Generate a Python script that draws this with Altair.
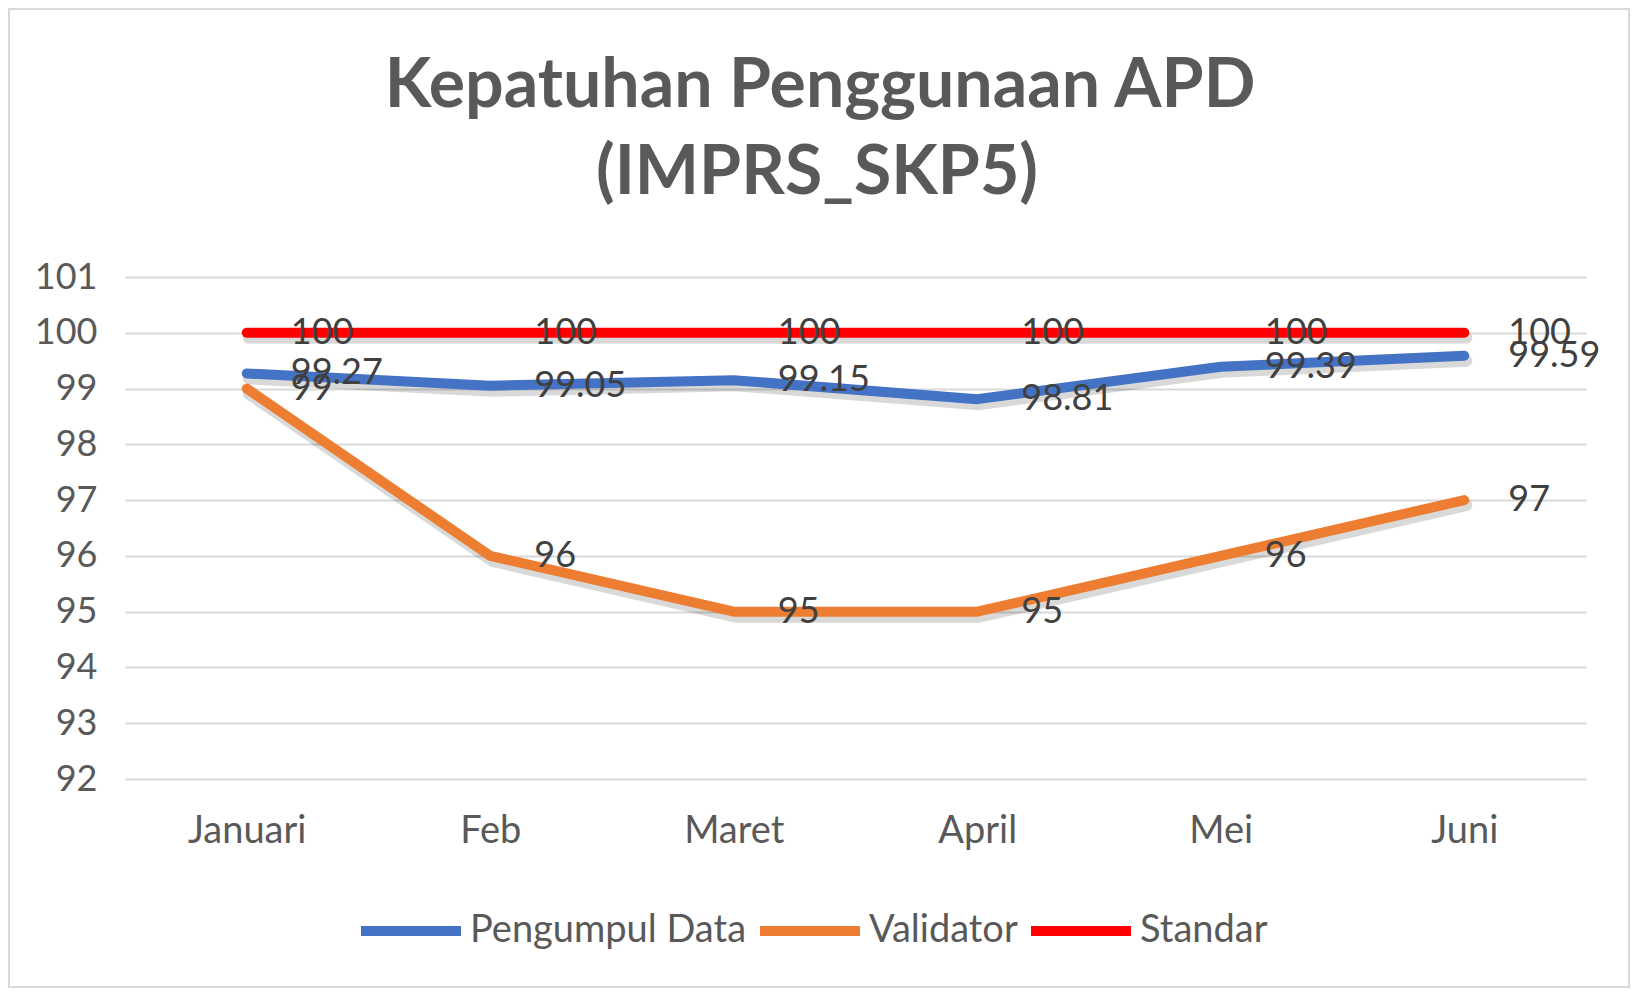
import altair as alt
import pandas as pd

title_lines = ["Kepatuhan Penggunaan APD", "(IMPRS_SKP5)"]
months = ["Januari", "Feb", "Maret", "April", "Mei", "Juni"]
pengumpul = [99.27, 99.05, 99.15, 98.81, 99.39, 99.59]
validator = [99, 96, 95, 95, 96, 97]
standar = [100, 100, 100, 100, 100, 100]
series = ["Pengumpul Data", "Validator", "Standar"]
colors = ["#4472C4", "#ED7D31", "#FF0000"]
y_ticks = [92, 93, 94, 95, 96, 97, 98, 99, 100, 101]

rows = []
for s, vals in zip(series, [pengumpul, validator, standar]):
    for i, (m, v) in enumerate(zip(months, vals)):
        rows.append({"bulan": m, "idx": i, "seri": s, "nilai": v, "label": f"{v:g}"})
df = pd.DataFrame(rows)

FONT = "Lato"
W, H = 1461, 502
PL, PT, PR = 117, 269, 44
PB = 980 - PT - H

x_enc = alt.X("bulan:N", sort=months, title=None,
              scale=alt.Scale(type="point", padding=0.5),
              axis=alt.Axis(labelAngle=0, domain=False, ticks=False, grid=False, labelPadding=33,
                            labelFontSize=38, labelColor="#595959", labelFont=FONT))
y_enc = alt.Y("nilai:Q", title=None, scale=alt.Scale(domain=[92, 101], nice=False, zero=False),
              axis=alt.Axis(values=y_ticks, domain=False, ticks=False, grid=True, labelPadding=28,
                            labelFontSize=36, labelColor="#595959", labelFont=FONT,
                            gridColor="#d9d9d9", gridWidth=2))

color_enc = alt.Color("seri:N", sort=series,
                      scale=alt.Scale(domain=series, range=colors),
                      legend=alt.Legend(title=None, orient="none", direction="horizontal",
                                        legendX=231, legendY=599,
                                        symbolType="stroke", symbolSize=10000,
                                        symbolStrokeWidth=10, labelFontSize=38,
                                        labelColor="#595959", labelFont=FONT,
                                        labelOffset=4, columnPadding=-7, labelLimit=500))

base = alt.Chart(df)

border = alt.Chart(pd.DataFrame({"a": [0]})).mark_rect(
    fill="transparent", stroke="#d9d9d9", strokeWidth=2
).encode(x=alt.value(-PL + 1), x2=alt.value(W + PR - 1),
         y=alt.value(-PT + 1), y2=alt.value(H + PB - 1))

title_df = pd.DataFrame({"t": title_lines, "k": [0, 1]})
title1 = alt.Chart(title_df).transform_filter(alt.datum.k == 0).mark_text(
    fontSize=68, font=FONT, fontWeight="bold", color="#595959",
    align="center", baseline="alphabetic"
).encode(text="t:N", x=alt.value(695), y=alt.value(-170))
title2 = alt.Chart(title_df).transform_filter(alt.datum.k == 1).mark_text(
    fontSize=68, font=FONT, fontWeight="bold", color="#595959",
    align="center", baseline="alphabetic"
).encode(text="t:N", x=alt.value(692), y=alt.value(-83))

layers = [border, title1, title2]
for s in series:
    layers.append(base.transform_filter(alt.datum.seri == s).mark_line(
        color="#000000", opacity=0.15, strokeWidth=12, strokeCap="round",
        strokeJoin="round", xOffset=2, yOffset=5
    ).encode(x=x_enc, y=y_enc, order="idx:Q"))
for s in series:
    layers.append(base.transform_filter(alt.datum.seri == s).mark_line(
        strokeWidth=10, strokeCap="round", strokeJoin="round"
    ).encode(x=x_enc, y=y_enc, color=color_enc, order="idx:Q"))

labels = base.mark_text(dx=44, align="left", baseline="middle", fontSize=36,
                        font=FONT, color="#404040").encode(x=x_enc, y=y_enc, text="label:N")
layers.append(labels)

chart = alt.layer(*layers).properties(
    width=W, height=H,
    padding={"left": PL, "top": PT, "right": PR, "bottom": PB},
    autosize=alt.AutoSizeParams(type="none"),
).configure(
    background="white",
    style={"cell": {"stroke": "transparent", "strokeWidth": 0}},
).configure_view(stroke="transparent", strokeWidth=0)

chart.save("out.html", embed_options={"renderer": "svg", "actions": False})
